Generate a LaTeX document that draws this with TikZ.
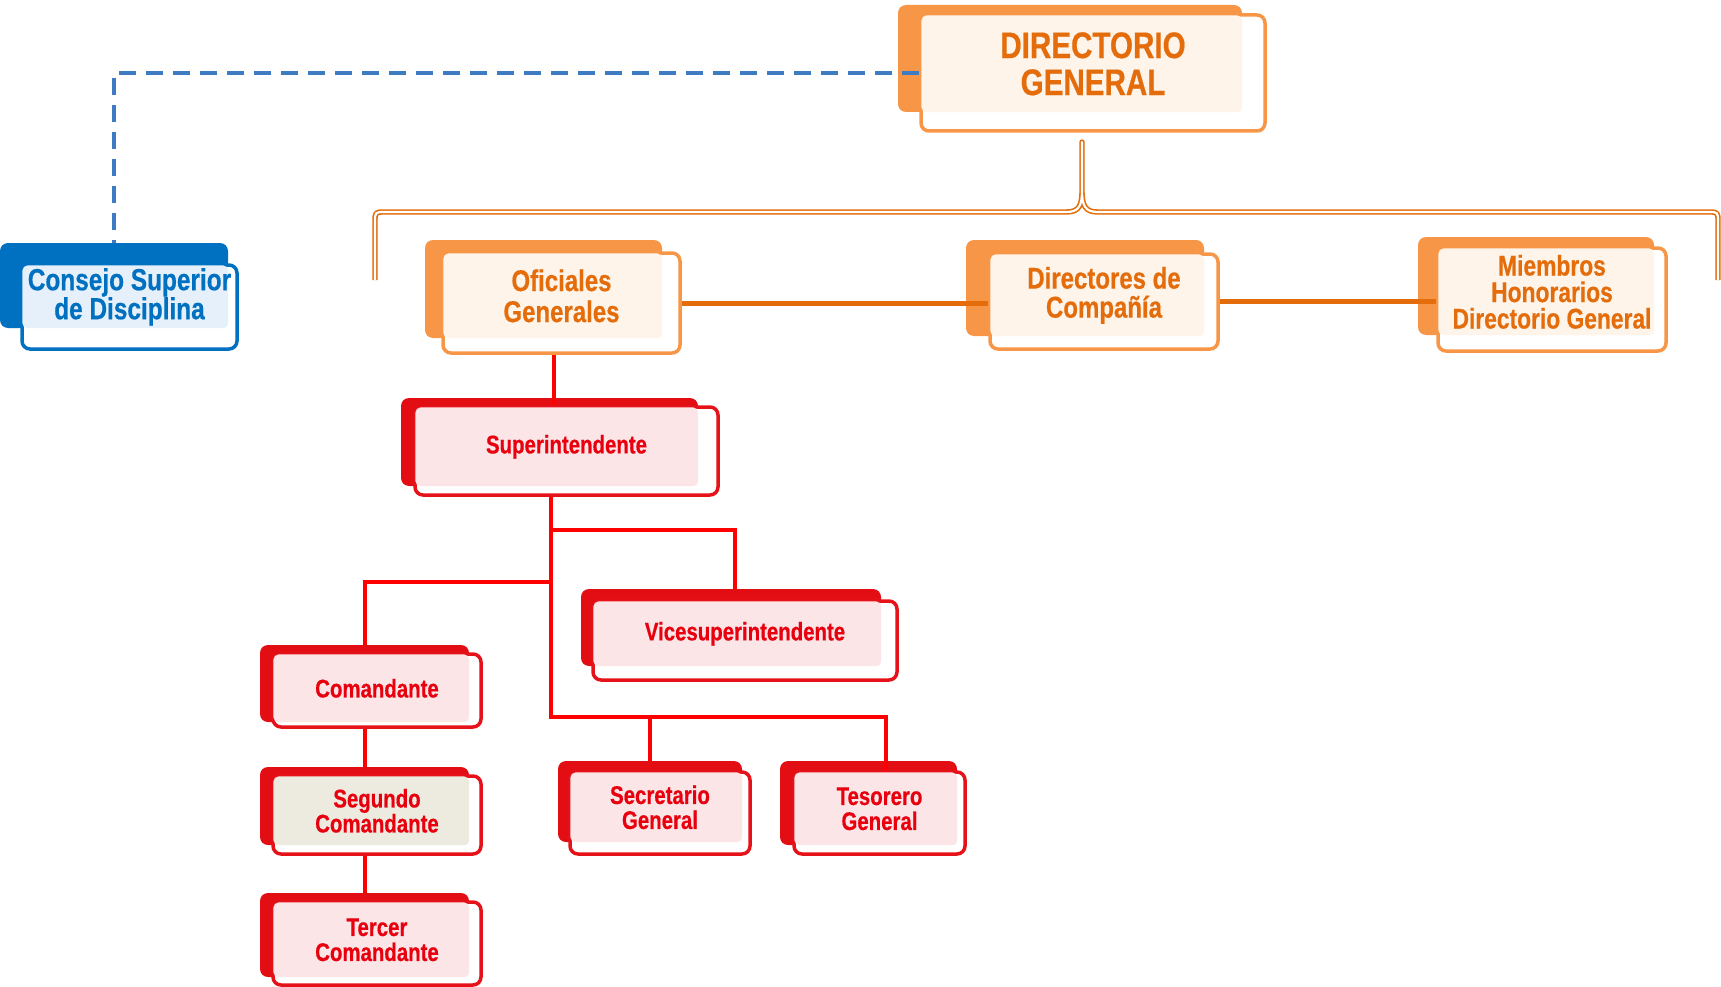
\documentclass[tikz,border=0pt]{standalone}
\usepackage{fontspec}
\newfontfamily\orgfont[FakeStretch=0.8, BoldFeatures={FakeBold=0.5}]{Liberation Sans}
\usetikzlibrary{calc}
\pgfdeclarelayer{bg}\pgfdeclarelayer{cn}\pgfsetlayers{bg,cn,main}
\definecolor{oback}{HTML}{F79646}
\definecolor{oline}{HTML}{F79646}
\definecolor{otext}{HTML}{E46C0A}
\definecolor{otint}{HTML}{FEF4EA}
\definecolor{rback}{HTML}{E20E14}
\definecolor{rline}{HTML}{E5121A}
\definecolor{rtext}{HTML}{E8000F}
\definecolor{rtint}{HTML}{FBE5E6}
\colorlet{sback}{rback}
\colorlet{sline}{rline}
\colorlet{stext}{rtext}
\definecolor{stint}{HTML}{EDEBE0}
\definecolor{bback}{HTML}{0070C0}
\definecolor{bline}{HTML}{0070C0}
\definecolor{btext}{HTML}{0070C0}
\definecolor{btint}{HTML}{E6F0FA}
\definecolor{bluedashc}{HTML}{3F7BC3}
\definecolor{orangecon}{HTML}{E46C0A}
\definecolor{redcon}{HTML}{FF0000}
\tikzset{
  redline/.style={draw=redcon, line width=4pt},
  orangeline/.style={draw=orangecon, line width=5pt},
  bluedash/.style={draw=bluedashc, line width=4pt, dash pattern=on 17pt off 10pt},
  dblline/.style={draw=orangecon, double=white, double distance=2.2pt, line width=1.6pt, line join=round},
}
\newcommand\backbox[6]{%
  \begin{pgfonlayer}{bg}
  \node[fill=#2back, rounded corners=8pt, inner sep=0pt,
        minimum width={(#5-#3)*1pt}, minimum height={(#6-#4)*1pt}]
        (#1-b) at ({(#3+#5)/2},{(#4+#6)/2}) {};
  \end{pgfonlayer}}
\newcommand\frontbox[9]{%
  \node[fill=white, draw=#2line, line width=3.5pt, rounded corners=8pt, inner sep=0pt,
        minimum width={(#5-#3)*1pt}, minimum height={(#6-#4)*1pt}]
        (#1) at ({(#3+#5)/2},{(#4+#6)/2}) {};
  \fill[#2tint, rounded corners=5pt] ([shift={(2.2pt,-2.2pt)}]#1.north west) rectangle (#1-b.south east);
  \coordinate (#1-m) at ($([shift={(2.2pt,-2.2pt)}]#1.north west)!0.5!(#1-b.south east)$);
  \node[text=#2text, font=\orgfont\bfseries\fontsize{#7}{#8}\selectfont, align=center, inner sep=0pt]
        (#1-t) at (#1.center |- #1-m) {#9};}
\begin{document}
\begin{tikzpicture}[x=1pt,y=-1pt]
\useasboundingbox (0,0) rectangle (1721,987);
% back boxes
\backbox{dir}{o}{898}{5}{1242}{112}
\backbox{cons}{b}{0}{243}{228}{328}
\backbox{ofi}{o}{425}{240}{662}{338}
\backbox{dirc}{o}{966}{240}{1204}{336}
\backbox{miem}{o}{1418}{237}{1654}{335}
\backbox{sup}{r}{401}{398}{698}{486}
\backbox{vice}{r}{581}{589}{881}{666}
\backbox{com}{r}{260}{645}{469}{722}
\backbox{seg}{s}{260}{767}{469}{845}
\backbox{ter}{r}{260}{893}{469}{977}
\backbox{sec}{r}{558}{761}{742}{842}
\backbox{tes}{r}{780}{761}{957}{845}
% front boxes
\frontbox{dir}{o}{921}{15}{1265}{131}{37}{37}{DIRECTORIO\\GENERAL}
\frontbox{cons}{b}{22}{265}{237}{349}{30.5}{29}{Consejo Superior\\de Disciplina}
\frontbox{ofi}{o}{443}{253}{680}{353}{30}{31}{Oficiales\\Generales}
\frontbox{dirc}{o}{990}{254}{1218}{349}{30}{29}{Directores de\\Compañía}
\frontbox{miem}{o}{1438}{248}{1666}{351}{28.5}{26.5}{Miembros\\Honorarios\\Directorio General}
\frontbox{sup}{r}{415}{407}{718}{495}{25.5}{25}{Superintendente}
\frontbox{vice}{r}{593}{601}{897}{680}{25.5}{25}{Vicesuperintendente}
\frontbox{com}{r}{273}{654}{481}{727}{25.5}{25}{Comandante}
\frontbox{seg}{s}{273}{776}{481}{854}{25.5}{25}{Segundo\\Comandante}
\frontbox{ter}{r}{273}{902}{481}{985}{25.5}{25}{Tercer\\Comandante}
\frontbox{sec}{r}{570}{772}{750}{854}{25.5}{25}{Secretario\\General}
\frontbox{tes}{r}{794}{772}{965}{854}{25.5}{25}{Tesorero\\General}
% connectors
\coordinate (spk) at (1082,142);
\coordinate (j1) at (551,530);
\coordinate (j2) at (551,582);
\coordinate (j3) at (551,717);
\coordinate (j4) at (886,717);
\begin{pgfonlayer}{cn}
\draw[bluedash] (dir.west) -| (cons-b.north);
\draw[orangeline] (ofi.east) -- (ofi.east -| dirc.west);
\draw[orangeline] (dirc.east) -- (dirc.east -| miem.west);
\draw[redline] ([xshift=-8pt]ofi.south) -- ([xshift=-8pt]ofi.south |- sup.north);
\draw[redline] (sup.south -| j1) -- ([yshift=-2pt]j3);
\draw[redline] (j1) -| ([xshift=4pt]vice-b.north);
\draw[redline] (j2) -| (com-b.north);
\draw[redline] (j3) -- (j4) -- (j4 |- tes.north);
\draw[redline] (sec-b.north |- j3) -- (sec-b.north);
\draw[redline] (com-b.south) -- (seg-b.north);
\draw[redline] (seg-b.south) -- (ter-b.north);
\end{pgfonlayer}
\draw[dblline] (375,280) -- (375,222) .. controls (375,212) .. (385,212) -- (1066,212)
  .. controls (1079,212) and (1082,206) .. (1082,190) -- (spk) -- (1082,190)
  .. controls (1082,206) and (1085,212) .. (1098,212) -- (1708,212)
  .. controls (1718,212) .. (1718,222) -- (1718,280);
\end{tikzpicture}
\end{document}
